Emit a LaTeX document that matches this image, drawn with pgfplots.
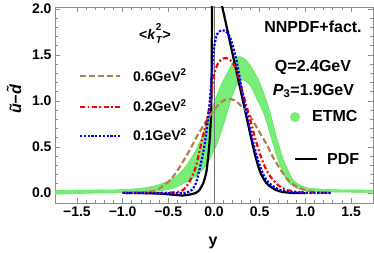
\documentclass[border=0pt]{standalone}
\usepackage{fontspec}
\setmainfont{Liberation Sans}
\usepackage{pgfplots}
\pgfplotsset{compat=1.18}
\usepgfplotslibrary{fillbetween}
\definecolor{bandgreen}{rgb}{0.47,0.93,0.47}
\definecolor{bandedge}{rgb}{0.38,0.9,0.38}
\definecolor{mybrown}{rgb}{0.70,0.50,0.30}
\definecolor{framegray}{rgb}{0.55,0.55,0.55}

\pgfplotstableread{
x y
-1.74 0.025
-1.4 0.03
-1.0 0.035
-0.8 0.05
-0.7 0.065
-0.6 0.09
-0.5 0.13
-0.4 0.19
-0.3 0.3
-0.2 0.46
-0.12 0.64
-0.05 0.85
0.0 0.98
0.06 1.13
0.1 1.22
0.15 1.31
0.2 1.41
0.265 1.48
0.33 1.46
0.4 1.38
0.5 1.2
0.6 0.92
0.68 0.62
0.76 0.36
0.86 0.15
0.95 0.08
1.05 0.05
1.3 0.035
1.74 0.03
}\bandup

\pgfplotstableread{
x y
-1.74 -0.015
-1.4 -0.005
-1.0 0.003
-0.7 0.012
-0.55 0.028
-0.45 0.05
-0.37 0.085
-0.28 0.13
-0.19 0.19
-0.1 0.28
-0.01 0.44
0.04 0.55
0.08 0.67
0.12 0.79
0.17 0.96
0.22 1.11
0.27 1.2
0.32 1.23
0.4 1.16
0.47 1.02
0.55 0.85
0.62 0.62
0.7 0.36
0.79 0.15
0.87 0.07
0.95 0.035
1.05 0.02
1.3 0.01
1.74 0.005
}\bandlo

\pgfplotstableread{
x y
-1.0 0.0
-0.8 -0.002
-0.6 -0.008
-0.45 -0.02
-0.34 -0.028
-0.25 -0.015
-0.2 0.0
-0.16 0.03
-0.12 0.1
-0.1 0.16
-0.08 0.25
-0.065 0.38
-0.05 0.54
-0.04 0.7
-0.03 0.9
-0.026 1.3
-0.022 1.9
-0.015 2.45
0.095 2.0
0.17 1.66
0.29 1.12
0.35 0.85
0.41 0.58
0.45 0.41
0.5 0.24
0.55 0.14
0.6 0.08
0.68 0.03
0.75 0.01
0.85 0.0
1.0 -0.003
}\pdf

\pgfplotstableread{
x y
-1.0 0.0
-0.6 -0.003
-0.4 -0.005
-0.32 0.0
-0.28 0.01
-0.245 0.03
-0.2 0.1
-0.16 0.25
-0.13 0.38
-0.1 0.54
-0.075 0.72
-0.055 0.9
-0.03 1.2
-0.01 1.5
0.02 1.68
0.045 1.74
0.08 1.765
0.12 1.76
0.16 1.72
0.2 1.62
0.25 1.42
0.29 1.2
0.35 0.9
0.41 0.63
0.46 0.43
0.5 0.3
0.55 0.18
0.6 0.11
0.7 0.04
0.8 0.015
0.9 0.005
1.0 0.0
1.28 0.0
}\kone

\pgfplotstableread{
x y
-1.0 0.0
-0.6 0.0
-0.45 0.005
-0.38 0.015
-0.34 0.03
-0.28 0.1
-0.21 0.25
-0.17 0.4
-0.14 0.54
-0.1 0.7
-0.047 0.95
-0.01 1.22
0.01 1.32
0.05 1.42
0.1 1.46
0.135 1.465
0.18 1.44
0.225 1.38
0.27 1.25
0.32 1.07
0.38 0.86
0.44 0.63
0.5 0.43
0.55 0.3
0.6 0.2
0.7 0.085
0.79 0.035
0.9 0.012
1.0 0.005
1.28 0.0
}\ktwo

\pgfplotstableread{
x y
-1.0 0.0
-0.8 0.005
-0.7 0.015
-0.62 0.035
-0.5 0.12
-0.43 0.2
-0.37 0.29
-0.28 0.44
-0.2 0.59
-0.13 0.71
-0.065 0.81
0.0 0.9
0.05 0.96
0.1 1.0
0.15 1.02
0.2 1.015
0.25 0.99
0.3 0.94
0.37 0.87
0.44 0.76
0.515 0.63
0.58 0.52
0.65 0.38
0.75 0.22
0.82 0.13
0.9 0.07
1.0 0.03
1.1 0.01
1.28 0.0
}\ksix

\begin{document}
\begin{tikzpicture}[x=1pt,y=1pt]
\begin{axis}[
  at={(55pt,49pt)}, anchor=south west,
  scale only axis, width=318pt, height=196pt,
  xmin=-1.74, xmax=1.74, ymin=-0.11, ymax=2.02,
  axis line style={framegray, line width=0.6pt},
  tick style={framegray, line width=0.6pt},
  tick align=inside,
  major tick length=5pt, minor tick length=2.8pt,
  xtick={-1.5,-1,-0.5,0,0.5,1,1.5},
  xticklabels={−1.5,−1.0,−0.5,0.0,0.5,1.0,1.5},
  ytick={0,0.5,1,1.5,2},
  yticklabels={0.0,0.5,1.0,1.5,2.0},
  minor x tick num=4, minor y tick num=4,
  ticklabel style={font=\fontsize{14}{14}\selectfont\bfseries, text=black},
  clip=true,
]
\addplot[name path=up, draw=bandedge, line width=0.6pt, smooth] table {\bandup};
\addplot[name path=lo, draw=bandedge, line width=0.6pt, smooth] table {\bandlo};
\addplot[bandgreen] fill between[of=up and lo];
\draw[black!55, line width=0.5pt] (axis cs:0,-0.2) -- (axis cs:0,2.1);
\addplot[black, line width=2.2pt, smooth, tension=0.4] table {\pdf};
\addplot[mybrown, line width=2.2pt, smooth, dash pattern=on 6pt off 3pt] table {\ksix};
\addplot[red, line width=2.2pt, smooth, dash pattern=on 5pt off 2.5pt on 1.8pt off 2.5pt] table {\ktwo};
\addplot[blue, line width=2.2pt, smooth, dash pattern=on 2.2pt off 1.6pt] table {\kone};
\end{axis}

% legend (left)
\node[font=\fontsize{14}{14}\selectfont\bfseries, anchor=base] at (155,212.7)
  {<\textit{k}\rlap{\raisebox{0.62em}{\fontsize{10}{10}\selectfont 2}}\raisebox{-0.32em}{\fontsize{10}{10}\selectfont\textit{T}}>};
\draw[mybrown, line width=2.2pt, dash pattern=on 6pt off 3pt] (80,176) -- (120,176);
\node[font=\fontsize{14}{14}\selectfont\bfseries, anchor=base west, inner sep=0pt] at (133,171) {0.6GeV\textsuperscript{2}};
\draw[red, line width=2.2pt, dash pattern=on 5pt off 2.5pt on 1.8pt off 2.5pt] (80,145) -- (120,145);
\node[font=\fontsize{14}{14}\selectfont\bfseries, anchor=base west, inner sep=0pt] at (133,140.3) {0.2GeV\textsuperscript{2}};
\draw[blue, line width=2.2pt, dash pattern=on 2.2pt off 1.6pt] (80,116) -- (120,116);
\node[font=\fontsize{14}{14}\selectfont\bfseries, anchor=base west, inner sep=0pt] at (133,111.3) {0.1GeV\textsuperscript{2}};

% right texts
\node[font=\fontsize{16}{16}\selectfont\bfseries, anchor=base] at (313,219.3) {NNPDF+fact.};
\node[font=\fontsize{16}{16}\selectfont\bfseries, anchor=base] at (313,180) {Q=2.4GeV};
\node[font=\fontsize{16}{16}\selectfont\bfseries, anchor=base] at (313.5,156.7) {\textit{P}\textsubscript{3}=1.9GeV};
\fill[bandgreen] (295,135) circle (5pt);
\node[font=\fontsize{16}{16}\selectfont\bfseries, anchor=base west, inner sep=0pt] at (312,130.3) {ETMC};
\draw[black, line width=2.2pt] (295,93) -- (317,93);
\node[font=\fontsize{16}{16}\selectfont\bfseries, anchor=base west, inner sep=0pt] at (327,88) {PDF};

% axis labels
\node[rotate=90, font=\fontsize{16}{16}\selectfont\bfseries\itshape] at (14,152.5) {\~u−\~d};
\node[font=\fontsize{16}{16}\selectfont\bfseries] at (213,9.5) {y};

\pgfresetboundingbox
\path (0,0) rectangle (374,252);
\end{tikzpicture}
\end{document}
